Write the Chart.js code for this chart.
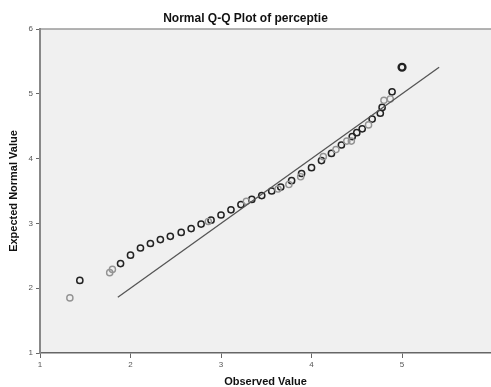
<!DOCTYPE html>
<html>
<head>
<meta charset="utf-8">
<script src="https://cdn.jsdelivr.net/npm/chart.js@4/dist/chart.umd.min.js"></script>
<style>
  body { margin: 0; background: #fff; }
</style>
</head>
<body>
<canvas id="qqChart" width="491" height="387"></canvas>
<script>
// observed vs expected normal quantiles, solid black markers
const observedDark = [1.44, 1.89, 2.00, 2.11, 2.22, 2.33, 2.44, 2.56, 2.67, 2.78, 2.89, 3.00, 3.11, 3.22,
  3.34, 3.45, 3.56, 3.66, 3.78, 3.89, 4.00, 4.11, 4.22, 4.33, 4.45, 4.50, 4.56, 4.67, 4.76, 4.78, 4.89];
const expectedDark = [2.12, 2.38, 2.51, 2.62, 2.69, 2.75, 2.80, 2.86, 2.92, 2.99, 3.05, 3.13, 3.21, 3.29,
  3.37, 3.43, 3.50, 3.56, 3.66, 3.77, 3.86, 3.97, 4.08, 4.21, 4.34, 4.40, 4.46, 4.61, 4.70, 4.79, 5.03];

// lighter markers
const observedGray = [1.33, 1.77, 1.80, 2.86, 3.28, 3.63, 3.75, 3.88, 4.13, 4.27, 4.39, 4.44, 4.63, 4.80, 4.87];
const expectedGray = [1.85, 2.24, 2.29, 3.03, 3.34, 3.53, 3.60, 3.72, 4.03, 4.14, 4.27, 4.27, 4.52, 4.90, 4.92];

// repeated top value, drawn heavier
const observedTop = [5.00];
const expectedTop = [5.41];

// reference line y = x
const lineX = [1.86, 5.41];
const lineY = [1.86, 5.41];

const xTickValues = [1, 2, 3, 4, 5];
const yTickValues = [1, 2, 3, 4, 5, 6];

const toPoints = (xs, ys) => xs.map((x, i) => ({ x: x, y: ys[i] }));

const plotBackground = {
  id: 'plotBackground',
  beforeDraw(chart) {
    const { ctx, chartArea: a } = chart;
    ctx.save();
    ctx.fillStyle = '#f0f0f0';
    ctx.fillRect(a.left, a.top, a.right - a.left, a.bottom - a.top);
    ctx.strokeStyle = '#9a9a9a';
    ctx.lineWidth = 1.5;
    ctx.beginPath();
    ctx.moveTo(a.left, a.top);
    ctx.lineTo(chart.width, a.top);
    ctx.stroke();
    ctx.restore();
  }
};

const tickFont = { family: "'Liberation Sans', Arial, sans-serif", size: 8 };
const titleFont = { family: "'Liberation Sans', Arial, sans-serif", size: 11, weight: 'bold', lineHeight: 1 };

new Chart(document.getElementById('qqChart'), {
  type: 'scatter',
  data: {
    datasets: [
      {
        type: 'line',
        data: toPoints(lineX, lineY),
        borderColor: '#555',
        borderWidth: 1.3,
        pointRadius: 0,
        fill: false
      },
      {
        data: toPoints(observedGray, expectedGray),
        pointRadius: 3.1,
        pointBorderWidth: 1.4,
        pointBorderColor: '#939393',
        pointBackgroundColor: 'rgba(0,0,0,0)'
      },
      {
        data: toPoints(observedDark, expectedDark),
        pointRadius: 3.1,
        pointBorderWidth: 1.5,
        pointBorderColor: '#222',
        pointBackgroundColor: 'rgba(0,0,0,0)'
      },
      {
        data: toPoints(observedTop, expectedTop),
        pointRadius: 3.4,
        pointBorderWidth: 2.4,
        pointBorderColor: '#222',
        pointBackgroundColor: 'rgba(0,0,0,0)'
      }
    ]
  },
  options: {
    responsive: false,
    animation: false,
    layout: { padding: 0, autoPadding: false },
    plugins: {
      legend: { display: false },
      tooltip: { enabled: false },
      title: {
        display: true,
        text: 'Normal Q-Q Plot of perceptie',
        color: '#111',
        font: { family: "'Liberation Sans', Arial, sans-serif", size: 12, weight: 'bold' },
        padding: { top: 11, bottom: 3.6 }
      }
    },
    scales: {
      x: {
        type: 'linear',
        min: 1,
        max: 5.983,
        afterBuildTicks: (scale) => { scale.ticks = xTickValues.map(v => ({ value: v })); },
        afterFit: (scale) => { scale.height = 34; },
        ticks: { autoSkip: false, maxRotation: 0, color: '#555', font: tickFont, padding: 2 },
        grid: { drawOnChartArea: false, drawTicks: true, tickLength: 5, color: '#666', lineWidth: 1 },
        border: { display: true, color: '#666', width: 1.5 },
        title: { display: true, text: 'Observed Value', color: '#111', font: titleFont, padding: { top: 0, bottom: 0 } }
      },
      y: {
        type: 'linear',
        min: 1,
        max: 6,
        afterBuildTicks: (scale) => { scale.ticks = yTickValues.map(v => ({ value: v })); },
        afterFit: (scale) => { scale.width = 40; },
        ticks: { autoSkip: false, color: '#555', font: tickFont, padding: 3 },
        grid: { drawOnChartArea: false, drawTicks: true, tickLength: 4, color: '#666', lineWidth: 1 },
        border: { display: true, color: '#888', width: 2 },
        title: { display: true, text: 'Expected Normal Value', color: '#111', font: titleFont, padding: { top: 8, bottom: 0 } }
      }
    }
  },
  plugins: [plotBackground]
});
</script>
</body>
</html>
